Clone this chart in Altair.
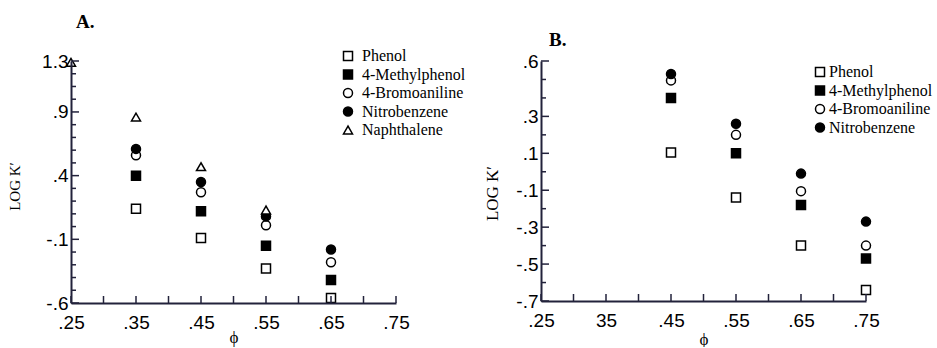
import altair as alt
import pandas as pd

# ---------------- data ----------------
compounds_A = ["Phenol", "4-Methylphenol", "4-Bromoaniline", "Nitrobenzene", "Naphthalene"]
compounds_B = ["Phenol", "4-Methylphenol", "4-Bromoaniline", "Nitrobenzene"]

phi_A = [0.35, 0.45, 0.55, 0.65]
phenol_A = [0.14, -0.09, -0.33, -0.56]
methylphenol_A = [0.40, 0.12, -0.15, -0.42]
bromoaniline_A = [0.56, 0.27, 0.01, -0.28]
nitrobenzene_A = [0.61, 0.35, 0.08, -0.18]
phi_naph_A = [0.25, 0.35, 0.45, 0.55]
naphthalene_A = [1.29, 0.86, 0.47, 0.13]

phi_B = [0.45, 0.55, 0.65, 0.75]
phenol_B = [0.105, -0.14, -0.40, -0.64]
methylphenol_B = [0.40, 0.10, -0.18, -0.47]
bromoaniline_B = [0.495, 0.20, -0.105, -0.40]
nitrobenzene_B = [0.53, 0.26, -0.01, -0.27]

x_tick_values = [0.25, 0.35, 0.45, 0.55, 0.65, 0.75]
x_tick_labels_A = [".25", ".35", ".45", ".55", ".65", ".75"]
x_tick_labels_B = [".25", "35", ".45", ".55", ".65", ".75"]
x_minor_ticks = [0.25, 0.30, 0.35, 0.40, 0.45, 0.50, 0.55, 0.60, 0.65, 0.70, 0.75]

y_tick_values_A = [-0.6, -0.1, 0.4, 0.9, 1.3]
y_tick_labels_A = ["-.6", "-.1", ".4", ".9", "1.3"]
y_minor_A = [-0.5, -0.4, -0.3, -0.2, 0.0, 0.1, 0.2, 0.3, 0.5, 0.6, 0.7, 0.8,
             1.0, 1.1, 1.2]

y_tick_values_B = [-0.7, -0.5, -0.3, -0.1, 0.1, 0.3, 0.6]
y_tick_labels_B = ["-.7", "-.5", "-.3", "-.1", ".1", ".3", ".6"]
y_minor_B = [-0.6, -0.4, -0.2, 0.0, 0.2, 0.4, 0.5]

shapes_all = ["square", "square", "circle", "circle", "triangle-up"]
fills_all = ["white", "black", "white", "black", "white"]
strokes_all = ["black", "black", "black", "black", "black"]

INK = "#22223b"

# ---------------- tables ----------------
def table(pairs):
    rows = []
    for name, xs, ys in pairs:
        for x, y in zip(xs, ys):
            rows.append({"phi": x, "logk": y, "compound": name})
    return pd.DataFrame(rows)

dfA = table([
    ("Phenol", phi_A, phenol_A),
    ("4-Methylphenol", phi_A, methylphenol_A),
    ("4-Bromoaniline", phi_A, bromoaniline_A),
    ("Nitrobenzene", phi_A, nitrobenzene_A),
    ("Naphthalene", phi_naph_A, naphthalene_A),
])
dfB = table([
    ("Phenol", phi_B, phenol_B),
    ("4-Methylphenol", phi_B, methylphenol_B),
    ("4-Bromoaniline", phi_B, bromoaniline_B),
    ("Nitrobenzene", phi_B, nitrobenzene_B),
])

SERIF = "Liberation Serif"
SANS = "Liberation Sans"


def label_expr(values, labels):
    vals = ",".join(repr(v) for v in values)
    labs = ",".join("'" + s + "'" for s in labels)
    return f"[{labs}][indexof([{vals}], datum.value)]"


def panel(df, compounds, ydomain, yvals, ylabs, yminor, xlabs, w, h,
          title, title_dx, title_offset, leg_x, leg_y, leg_off,
          ytitle_x, ytitle_y, ytitle_size, xtitle_y):
    xscale = alt.Scale(domain=[0.25, 0.75], nice=False, zero=False)
    yscale = alt.Scale(domain=ydomain, nice=False, zero=False)
    n = len(compounds)
    legend = alt.Legend(
        orient="none", legendX=leg_x, legendY=leg_y, title=None,
        labelFont=SERIF, labelFontSize=16, labelColor="black", labelOffset=leg_off,
        symbolSize=81, symbolStrokeWidth=1.5,
        rowPadding=2.5, padding=0, labelLimit=300, symbolOpacity=1,
    )
    xaxis = alt.Axis(
        values=x_tick_values, labelExpr=label_expr(x_tick_values, xlabs),
        ticks=False, tickSize=0, grid=False, domain=True,
        domainColor=INK, domainWidth=2, domainOpacity=1, labelFont=SANS,
        labelFontSize=19, labelColor="black", labelPadding=10,
        labelFlush=False, labelOverlap=False, zindex=1,
        title="ϕ", titleFont=SERIF, titleFontSize=17,
        titleFontWeight="normal", titleColor="black",
        titleX=w / 2, titleY=xtitle_y, titleAlign="center",
        titleBaseline="middle")
    yaxis = alt.Axis(
        values=yvals, labelExpr=label_expr(yvals, ylabs),
        ticks=False, tickSize=0, grid=False, domain=True,
        domainColor=INK, domainWidth=2, domainOpacity=1, labelFont=SANS,
        labelFontSize=19, labelColor="black", labelPadding=3,
        labelFlush=False, labelOverlap=False, zindex=1,
        title="LOG K′", titleFont=SERIF, titleFontSize=ytitle_size,
        titleFontWeight="normal", titleColor="black", titleAngle=270,
        titleX=ytitle_x, titleY=ytitle_y, titleAlign="center",
        titleBaseline="middle")
    pts = alt.Chart(df).mark_point(
        size=81, filled=False, stroke="black", strokeWidth=1.5, opacity=1
    ).encode(
        x=alt.X("phi:Q", scale=xscale, axis=xaxis),
        y=alt.Y("logk:Q", scale=yscale, axis=yaxis),
        shape=alt.Shape("compound:N", scale=alt.Scale(domain=compounds, range=shapes_all[:n]), legend=legend),
        fill=alt.Fill("compound:N", scale=alt.Scale(domain=compounds, range=fills_all[:n]), legend=legend),
        stroke=alt.Stroke("compound:N", scale=alt.Scale(domain=compounds, range=strokes_all[:n]), legend=legend),
    )
    ymaj = alt.Chart(pd.DataFrame({"logk": yvals})).mark_tick(
        color=INK, thickness=1.5, size=8, orient="horizontal", opacity=1
    ).encode(y=alt.Y("logk:Q", scale=yscale, axis=yaxis), x=alt.value(4))
    ymin = alt.Chart(pd.DataFrame({"logk": yminor})).mark_tick(
        color=INK, thickness=1.5, size=5, orient="horizontal", opacity=1
    ).encode(y=alt.Y("logk:Q", scale=yscale, axis=yaxis), x=alt.value(2.5))
    xt = alt.Chart(pd.DataFrame({"phi": x_minor_ticks})).mark_tick(
        color=INK, thickness=1.5, size=7, orient="vertical", opacity=1
    ).encode(x=alt.X("phi:Q", scale=xscale, axis=xaxis), y=alt.value(h - 3.5))
    return alt.layer(pts, ymin, ymaj, xt).properties(
        width=w, height=h,
        title=alt.TitleParams(title, anchor="start", font=SERIF, fontSize=19,
                              fontWeight="bold", color="black", dx=title_dx,
                              offset=title_offset, baseline="alphabetic", frame="group"),
    )


chartA = panel(dfA, compounds_A, [-0.6, 1.3], y_tick_values_A, y_tick_labels_A, y_minor_A,
               x_tick_labels_A, 325, 242, "A.", 5, 1, 269, -13, 6, -57, 125, 15, 34)
chartB = panel(dfB, compounds_B, [-0.7, 0.6], y_tick_values_B, y_tick_labels_B, y_minor_B,
               x_tick_labels_B, 325, 240, "B.", 8, -13, 271, 3, 1, -49, 132, 17, 38)

chart = alt.hconcat(chartA, chartB, spacing=145, bounds="flush").resolve_scale(
    shape="independent", fill="independent", stroke="independent"
).resolve_legend(shape="independent", fill="independent", stroke="independent").properties(
    padding={"left": 7, "top": 13, "right": 0, "bottom": 0},
    background="white",
).configure_view(stroke=None)

chart.save("out.html", embed_options={"renderer": "svg", "actions": False})
